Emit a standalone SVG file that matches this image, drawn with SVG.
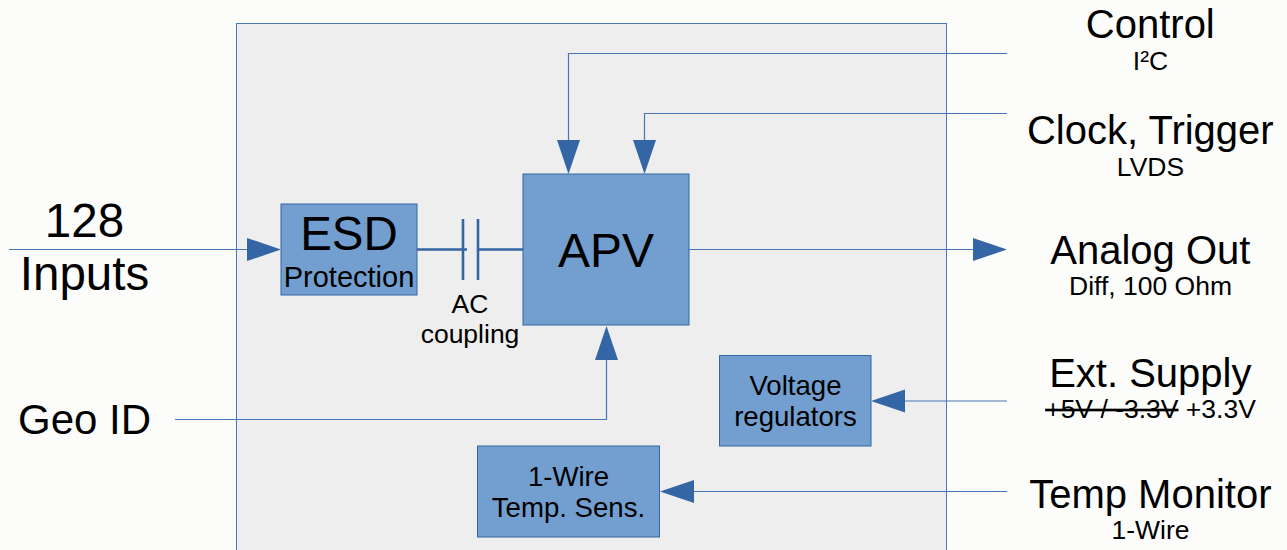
<svg xmlns="http://www.w3.org/2000/svg" width="1287" height="550" viewBox="0 0 1287 550">
<style>
text{font-family:"Liberation Sans",Arial,sans-serif;fill:#000;text-anchor:middle}
.box{fill:#729fcf;stroke:#3465a4;stroke-width:1}
.ln{fill:none;stroke:#4676b3;stroke-width:1.200}
.thick{fill:none;stroke:#3465a4;stroke-width:2.600}
.ah{fill:#3465a4}
.t47{font-size:47.500px}.t29{font-size:29px}.t27{font-size:27.600px}.t26{font-size:26.500px}.t40{font-size:40px}
</style>
<rect width="1287" height="550" fill="#fcfcfb"/>
<g id="board"><rect x="236.500" y="23.500" width="710" height="540" fill="#eeeeee" stroke="#4a7ab5" stroke-width="1"/></g>
<g id="connectors">
<path class="ln" d="M9 249.500H250"/>
<polygon class="ah" points="247,238 281,249.500 247,261"/>
<path class="thick" d="M417 249.500H467M478 249.500H523"/>
<path class="thick" d="M463 219V280M478 219V280"/>
<path class="ln" d="M1007 53.500H568.500V142"/>
<polygon class="ah" points="557,140 580,140 568.500,174"/>
<path class="ln" d="M1007 113.500H644.500V142"/>
<polygon class="ah" points="633,140 656,140 644.500,174"/>
<path class="ln" d="M689 249.500H976"/>
<polygon class="ah" points="973,238 1007,249.500 973,261"/>
<path class="ln" d="M175 419.500H606.500V358"/>
<polygon class="ah" points="595,360 618,360 606.500,326"/>
<path class="ln" d="M1007 401H902"/>
<polygon class="ah" points="905,389.500 905,412.500 871,401"/>
<path class="ln" d="M1007 491.500H692"/>
<polygon class="ah" points="694,480 694,503 660,491.500"/>
</g>
<g id="esd"><rect class="box" x="281" y="204" width="136" height="91"/><text class="t47" x="349" y="250">ESD</text><text class="t29" x="349" y="287">Protection</text></g>
<g id="apv"><rect class="box" x="523" y="174" width="166" height="151"/><text x="606" y="267" style="font-size:48px">APV</text></g>
<g id="voltage"><rect class="box" x="719.500" y="355.500" width="151.500" height="90.500"/><text class="t27" x="795.500" y="395">Voltage</text><text class="t27" x="795.500" y="426">regulators</text></g>
<g id="wire"><rect class="box" x="477.500" y="446" width="182" height="91"/><text class="t27" x="568.500" y="486">1-Wire</text><text class="t27" x="568.500" y="517">Temp. Sens.</text></g>
<g id="labels">
<text class="t47" x="84.500" y="237">128</text>
<text class="t47" x="84.500" y="290">Inputs</text>
<text class="t26" x="470" y="313">AC</text>
<text class="t26" x="470" y="343">coupling</text>
<text style="font-size:42px" x="84.500" y="434">Geo ID</text>
<text class="t40" x="1150.300" y="38">Control</text>
<text class="t26" x="1150.500" y="70">I²C</text>
<text class="t40" x="1150.300" y="144">Clock, Trigger</text>
<text class="t26" x="1150.500" y="176">LVDS</text>
<text class="t40" x="1150.300" y="264">Analog Out</text>
<text class="t26" x="1150.500" y="295">Diff, 100 Ohm</text>
<text class="t40" x="1150.300" y="387">Ext. Supply</text>
<text class="t26" x="1150.500" y="418"><tspan text-decoration="line-through">+5V / -3.3V</tspan> +3.3V</text>
<text class="t40" x="1150.300" y="508">Temp Monitor</text>
<text class="t26" x="1150.500" y="539">1-Wire</text>
</g>
</svg>
